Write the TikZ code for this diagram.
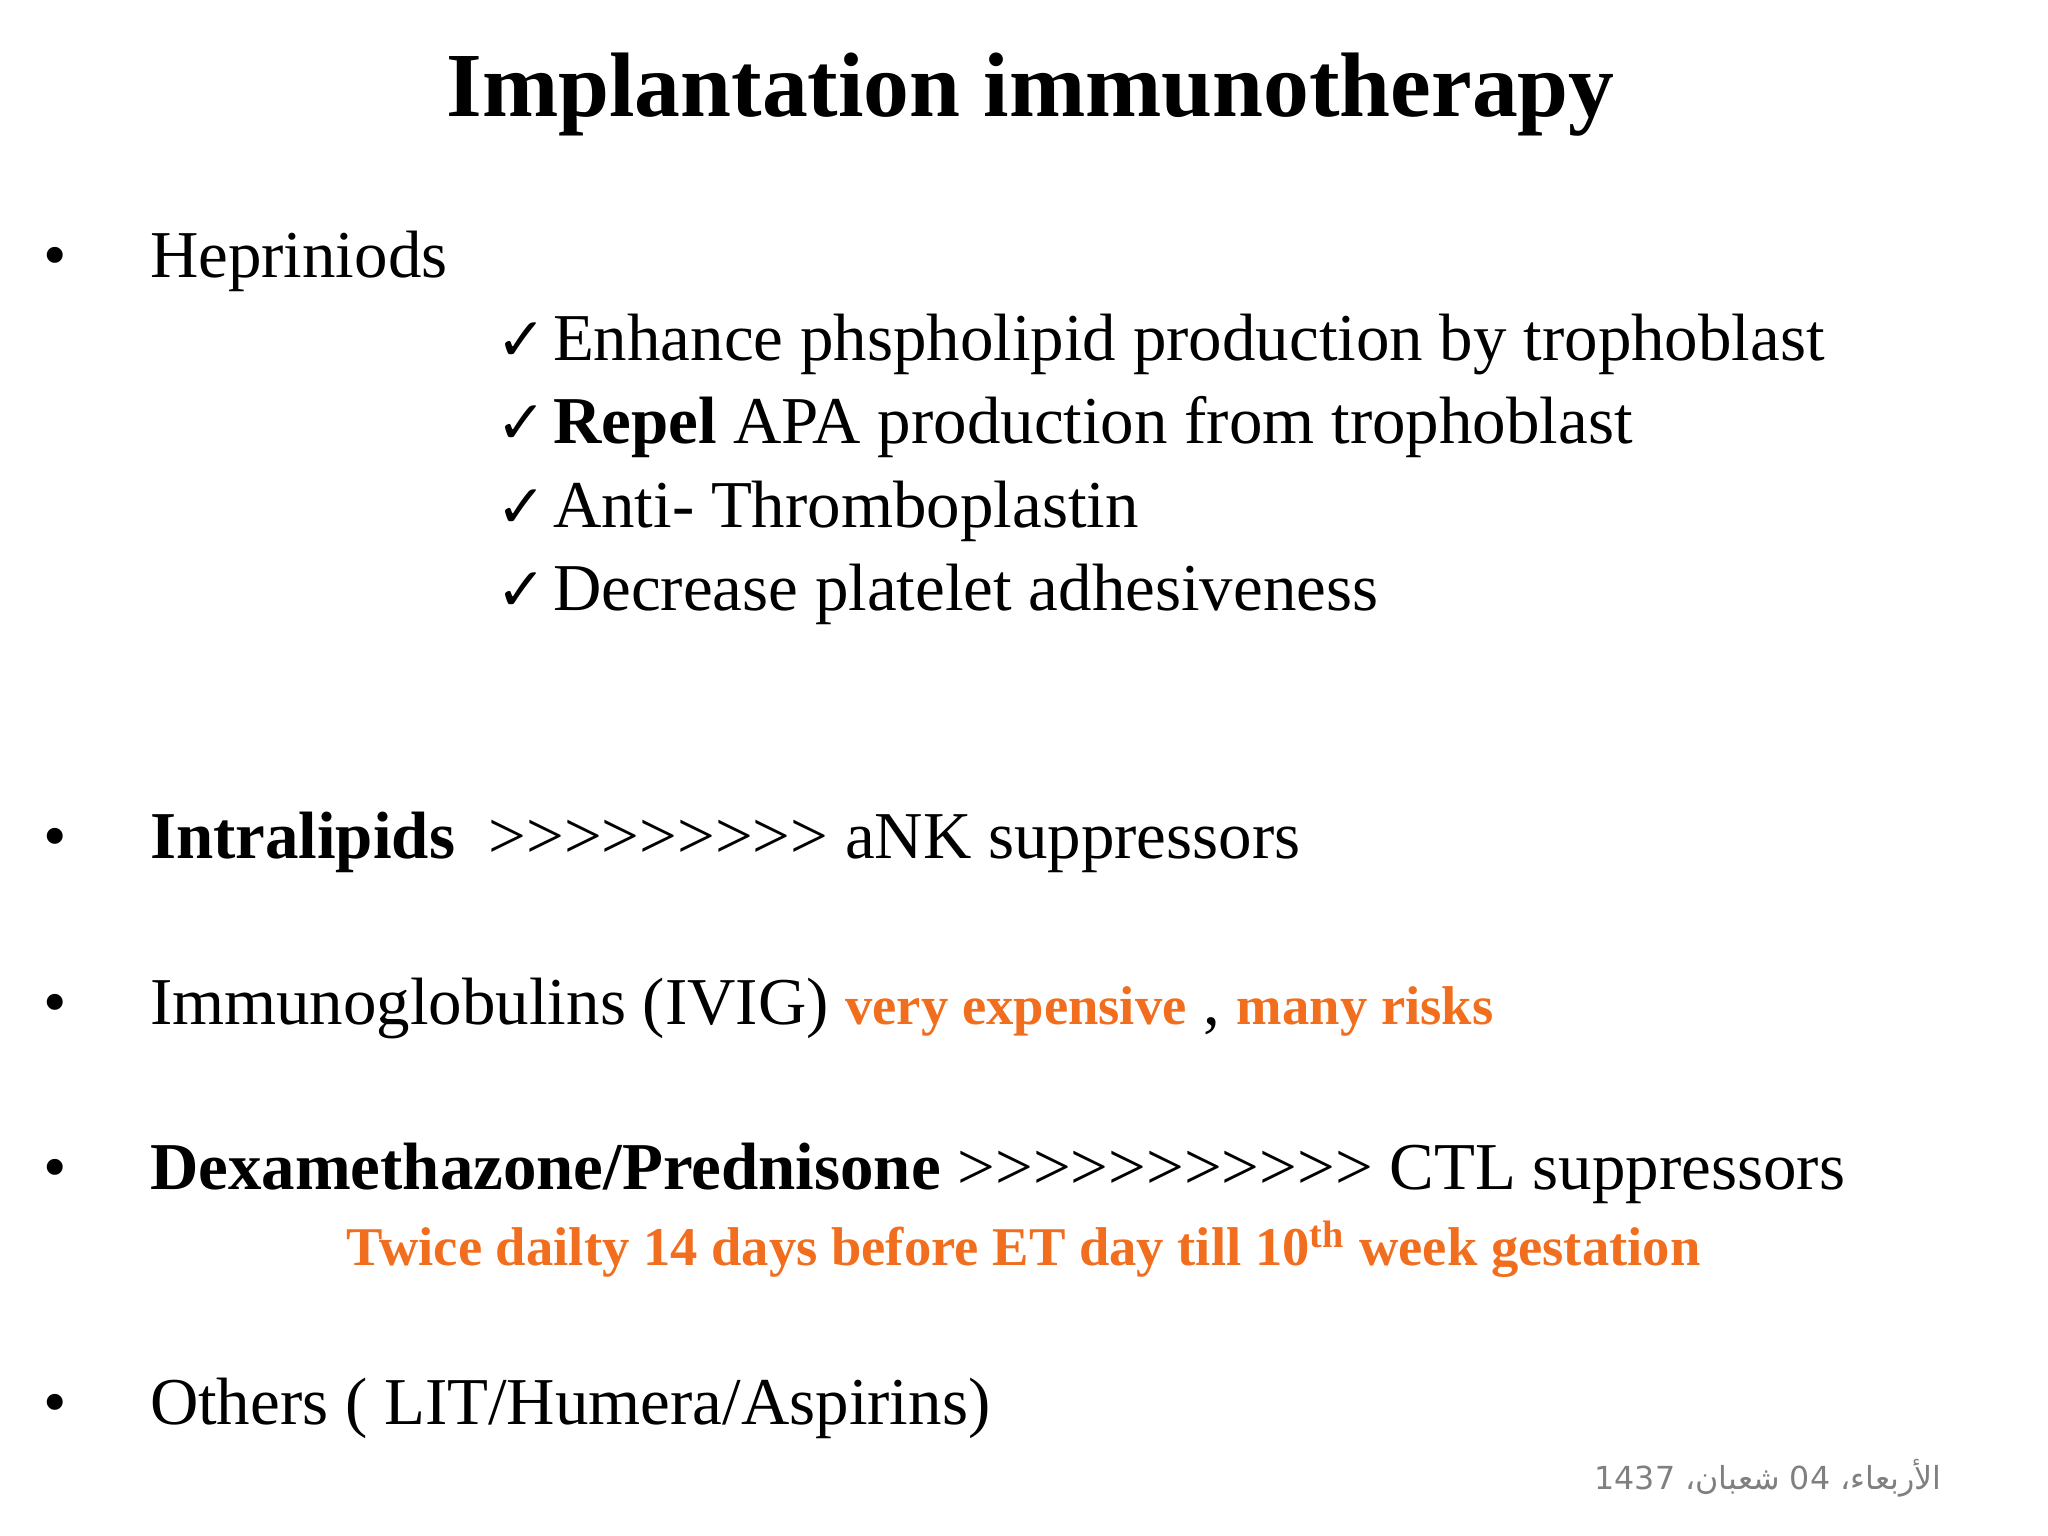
\documentclass[tikz,border=0pt]{standalone}
\usepackage{fontspec}
\setmainfont{Liberation Serif}
\newfontfamily\arabicfont[Script=Arabic]{DejaVu Sans}
\newfontfamily\symfont{DejaVu Sans}
\TeXXeTstate=1
\definecolor{orng}{RGB}{240,110,30}
\definecolor{foot}{RGB}{128,128,128}
\begin{document}
\begin{tikzpicture}[x=0.375pt,y=-0.375pt,
  body/.style={anchor=base west,inner sep=0pt,font=\fontsize{19}{22}\selectfont},
  bul/.style={anchor=base,inner sep=0pt,font=\fontsize{19}{22}\selectfont},
  chk/.style={anchor=base west,inner sep=0pt,font=\symfont\bfseries\fontsize{17}{20}\selectfont}]
\useasboundingbox (0,0) rectangle (1550,1162);
\node[anchor=base,inner sep=0pt,font=\fontsize{26}{30}\selectfont\bfseries] (title) at (780,88) {Implantation immunotherapy};
\foreach \n/\y in {b1/210,b2/650,b3/775,b4/900,b5/1078}{\node[bul] (\n) at (42,\y) {\textbullet};}
\node[body] (h) at (113,210) {Hepriniods};
\foreach \n/\y in {c1/273,c2/336,c3/399,c4/462}{\node[chk] (\n) at (375,\y) {✓};}
\node[body] (t1) at (418,273) {Enhance phspholipid production by trophoblast};
\node[body] (t2) at (418,336) {\textbf{Repel} APA production from trophoblast};
\node[body] (t3) at (418,399) {Anti- Thromboplastin};
\node[body] (t4) at (418,462) {Decrease platelet adhesiveness};
\node[body] (il) at (113,650) {\textbf{Intralipids}\ \ {>}{>}{>}{>}{>}{>}{>}{>}{>} aNK suppressors};
\node[body] (ig) at (113,775) {Immunoglobulins (IVIG) {\color{orng}\bfseries\fontsize{15.5}{18}\selectfont very expensive} , {\color{orng}\bfseries\fontsize{15.5}{18}\selectfont many risks}};
\node[body] (dx) at (113,900) {\textbf{Dexamethazone/Prednisone} {>}{>}{>}{>}{>}{>}{>}{>}{>}{>}{>} CTL suppressors};
\node[body,text=orng,font=\fontsize{15.5}{18}\selectfont\bfseries] (tw) at (262,958) {Twice dailty 14 days before ET day till 10\textsuperscript{th} week gestation};
\node[body] (ot) at (113,1078) {Others ( LIT/Humera/Aspirins)};
\node[anchor=base east,inner sep=0pt,text=foot,font=\arabicfont\fontsize{9}{11}\selectfont] (ft) at (1470,1127) {\beginR الأربعاء، 04 شعبان، 1437\endR};
\end{tikzpicture}
\end{document}
